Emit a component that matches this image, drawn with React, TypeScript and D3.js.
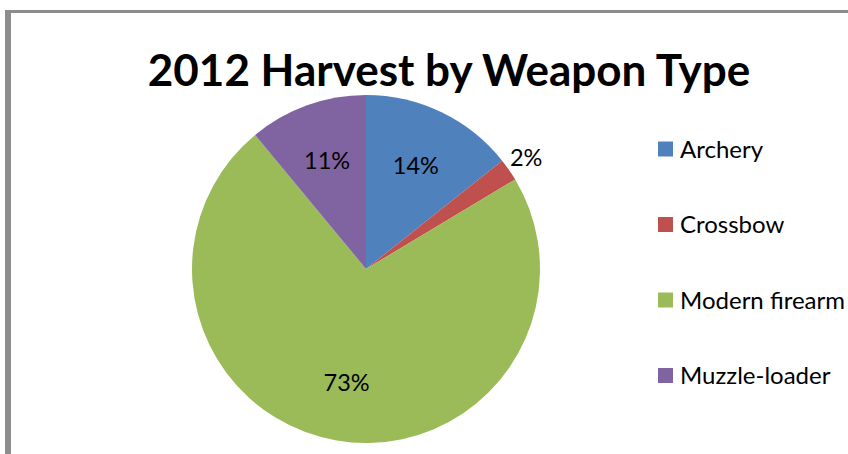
import React, { useEffect, useRef } from 'react';
import * as d3 from 'd3';

const weapons = ['Archery', 'Crossbow', 'Modern firearm', 'Muzzle-loader'];
const shares = [14.3, 2.1, 72.6, 11.0];
const colors = ['#4F81BD', '#C0504D', '#9BBB59', '#8064A2'];
const title = '2012 Harvest by Weapon Type';

const FONT = 'Lato, "Open Sans", sans-serif';

const App = () => {
  const ref = useRef<SVGSVGElement>(null);

  useEffect(() => {
    const svg = d3.select(ref.current);
    svg.selectAll('*').remove();

    const width = 848;
    const height = 454;
    const cx = 366;
    const cy = 269;
    const r = 174;

    svg.append('rect').attr('width', width).attr('height', height).attr('fill', '#fff');

    // chart frame (only left and top edges visible)
    svg.append('rect').attr('x', 5).attr('y', 10).attr('width', 6).attr('height', height).attr('fill', '#8c8c8c');
    svg.append('rect').attr('x', 5).attr('y', 10).attr('width', width).attr('height', 3).attr('fill', '#8c8c8c');

    svg
      .append('text')
      .attr('x', 449)
      .attr('y', 86)
      .attr('text-anchor', 'middle')
      .attr('font-family', FONT)
      .attr('font-weight', 'bold')
      .attr('font-size', 44)
      .attr('fill', '#000')
      .text(title);

    const data = weapons.map((w, i) => ({ name: w, value: shares[i], color: colors[i] }));
    const pie = d3
      .pie<{ name: string; value: number; color: string }>()
      .value((d) => d.value)
      .sort(null);
    const arcs = pie(data);
    const arc = d3.arc<d3.PieArcDatum<any>>().innerRadius(0).outerRadius(r);
    const labelArc = d3.arc<d3.PieArcDatum<any>>().innerRadius(r * 0.66).outerRadius(r * 0.66);
    const outArc = d3.arc<d3.PieArcDatum<any>>().innerRadius(r * 1.12).outerRadius(r * 1.12);

    const g = svg.append('g').attr('transform', `translate(${cx},${cy})`);

    g.selectAll('path')
      .data(arcs)
      .enter()
      .append('path')
      .attr('d', arc as any)
      .attr('fill', (d) => d.data.color);

    g.selectAll('text.lbl')
      .data(arcs)
      .enter()
      .append('text')
      .attr('class', 'lbl')
      .attr('transform', (d) => {
        const small = d.data.value < 5;
        const [x, y] = small ? outArc.centroid(d) : labelArc.centroid(d);
        return `translate(${x},${y})`;
      })
      .attr('text-anchor', 'middle')
      .attr('dy', '0.36em')
      .attr('font-family', FONT)
      .attr('font-size', 23.5)
      .attr('fill', '#000')
      .text((d) => `${Math.round(d.data.value)}%`);

    const legend = svg.append('g').attr('transform', 'translate(658, 149)');
    const rows = legend
      .selectAll('g')
      .data(data)
      .enter()
      .append('g')
      .attr('transform', (d, i) => `translate(0, ${i * 75.5})`);
    rows
      .append('rect')
      .attr('x', 0)
      .attr('y', -7.5)
      .attr('width', 15)
      .attr('height', 15)
      .attr('fill', (d) => d.color);
    rows
      .append('text')
      .attr('x', 22)
      .attr('dy', '0.36em')
      .attr('font-family', FONT)
      .attr('font-size', 24)
      .attr('fill', '#000')
      .text((d) => d.name);
  }, []);

  return (
    <svg
      ref={ref}
      width={848}
      height={454}
      style={{ position: 'fixed', left: 0, top: 0, display: 'block' }}
    />
  );
};

export default App;
